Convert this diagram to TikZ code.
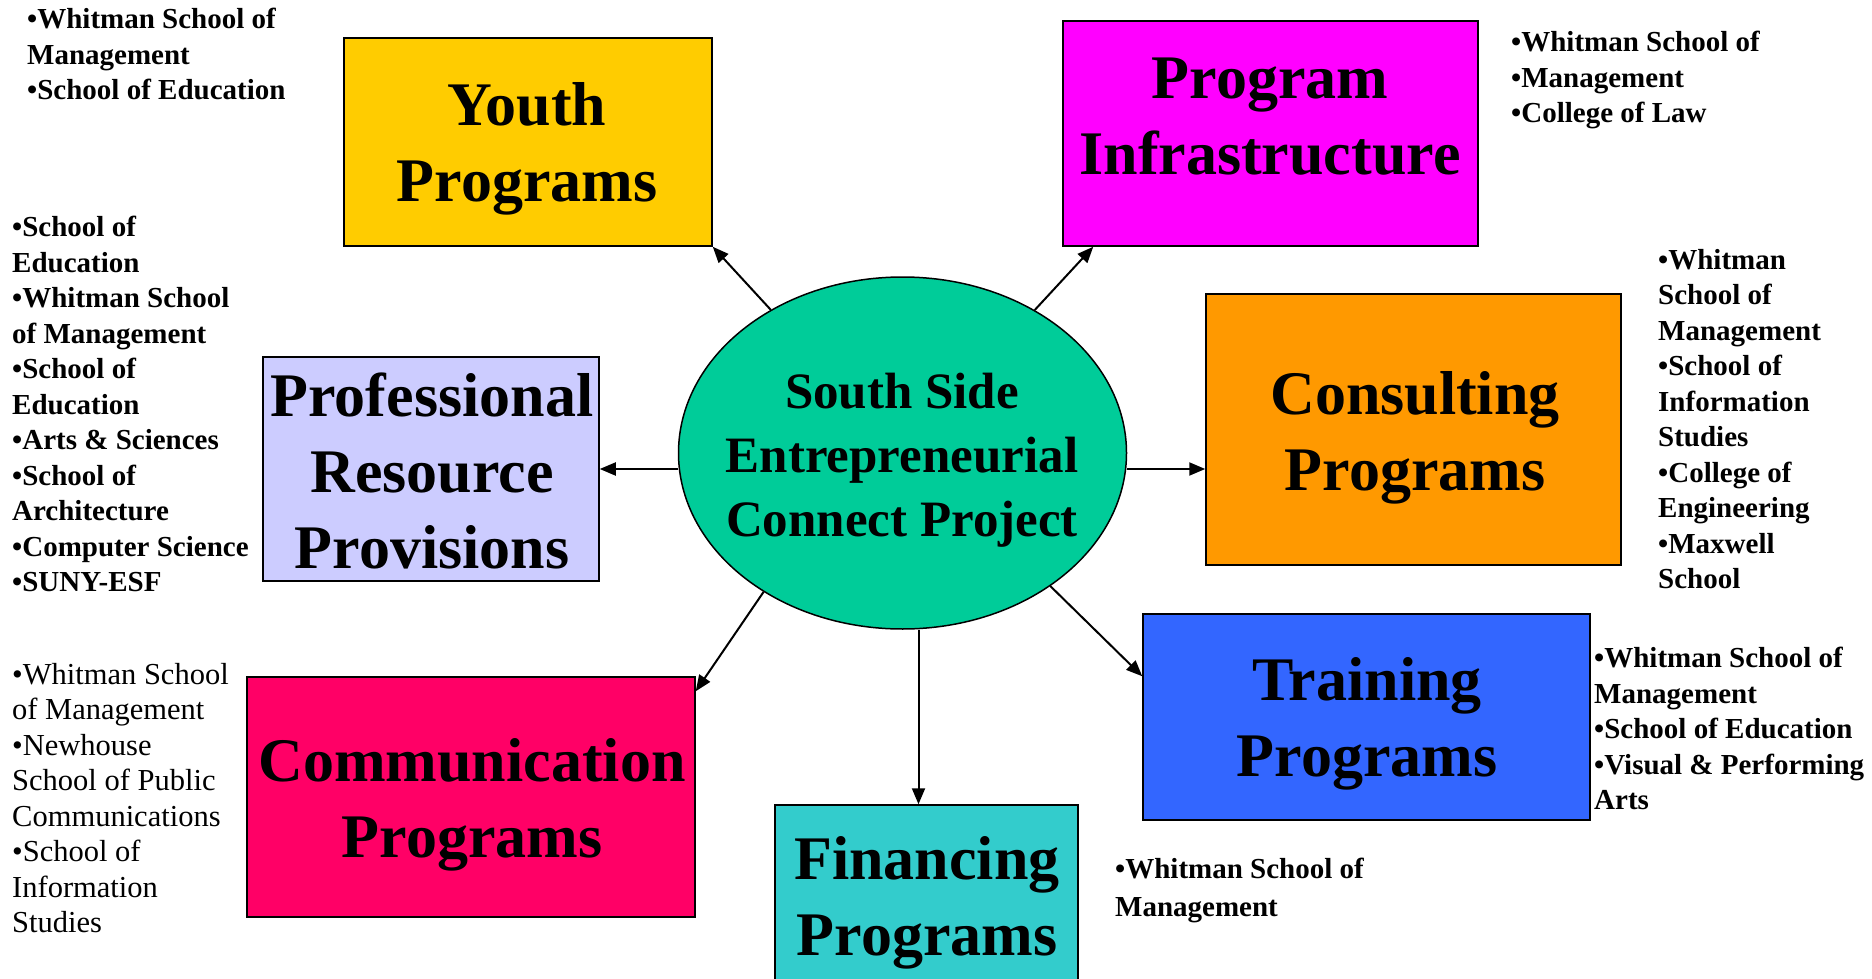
\documentclass[tikz,border=0pt]{standalone}
\usepackage{fontspec}
\setmainfont{Liberation Serif}
\usetikzlibrary{shapes.geometric,arrows.meta}
\definecolor{youthc}{HTML}{FFCC00}
\definecolor{infrac}{HTML}{FF00FF}
\definecolor{profc}{HTML}{CCCCFF}
\definecolor{consc}{HTML}{FF9900}
\definecolor{commc}{HTML}{FF0066}
\definecolor{finc}{HTML}{33CCCC}
\definecolor{trainc}{HTML}{3366FF}
\definecolor{ellc}{HTML}{00CC99}
\begin{document}
\begin{tikzpicture}[x=1pt,y=-1pt,
  box/.style={draw=black,line width=1.5pt,inner sep=0pt,rectangle},
  ttl/.style={font=\bfseries\fontsize{62}{76}\selectfont,align=center,inner sep=0pt},
  lst/.style={font=\bfseries\fontsize{29}{35.5}\selectfont,align=left,anchor=north west,inner sep=0pt},
  lstr/.style={font=\fontsize{30.5}{35.5}\selectfont,align=left,anchor=north west,inner sep=0pt},
  arr/.style={line width=2pt,-{Triangle[length=16pt,width=13pt]}}]
\useasboundingbox (0,0) rectangle (1872,979);

% boxes
\node[box,fill=youthc,minimum width=368pt,minimum height=208pt] (youth) at (528,142) {};
\node[box,fill=infrac,minimum width=415pt,minimum height=225pt] (infra) at (1270.5,133.5) {};
\node[box,fill=profc,minimum width=336pt,minimum height=224pt] (prof) at (431,469) {};
\node[box,fill=consc,minimum width=415pt,minimum height=271pt] (cons) at (1413.5,429.5) {};
\node[box,fill=commc,minimum width=448pt,minimum height=240pt] (comm) at (471,797) {};
\node[box,fill=finc,minimum width=303pt,minimum height=195pt] (fin) at (926.5,902.5) {};
\node[box,fill=trainc,minimum width=447pt,minimum height=206pt] (train) at (1366.5,717) {};
\node[ellipse,draw=black,line width=1.5pt,fill=ellc,minimum width=448pt,minimum height=352pt,inner sep=0pt] (ell) at (902.5,453) {};

% titles
\node[ttl] (youtht) at (527,149) {Youth\\Programs};
\node[ttl] (infrat) at (1270,117) {Program\\Infrastructure};
\node[ttl] (proft) at (432,471) {Professional\\Resource\\Provisions};
\node[ttl] (const) at (1415,438) {Consulting\\Programs};
\node[ttl] (commt) at (472,805) {Communication\\Programs};
\node[ttl] (traint) at (1367,724) {Training\\Programs};
\node[ttl] (fint) at (927,903) {Financing\\Programs};
\node[font=\bfseries\fontsize{51}{64}\selectfont,align=center,inner sep=0pt] (ellt) at (902,460) {South Side\\Entrepreneurial\\Connect Project};

% lists
\node[lst] (l1) at (27,8) {•Whitman School of\\Management\\•School of Education};
\node[lst] (l2) at (12,216) {•School of\\Education\\•Whitman School\\of Management\\•School of\\Education\\•Arts \& Sciences\\•School of\\Architecture\\•Computer Science\\•SUNY-ESF};
\node[lst] (l3) at (1511,31) {•Whitman School of\\•Management\\•College of Law};
\node[lst] (l4) at (1658,249) {•Whitman\\School of\\Management\\•School of\\Information\\Studies\\•College of\\Engineering\\•Maxwell\\School};
\node[lst] (l5) at (1594,647) {•Whitman School of\\Management\\•School of Education\\•Visual \& Performing\\Arts};
\node[lst,font=\bfseries\fontsize{29}{38}\selectfont] (l6) at (1115,858) {•Whitman School of\\Management};
\node[lstr] (l7) at (12,663) {•Whitman School\\of Management\\•Newhouse\\School of Public\\Communications\\•School of\\Information\\Studies};

% connectors
\draw[arr] (ell) -- (youth.south east);
\draw[arr] (ell) -- ([xshift=31pt]infra.south west);
\draw[arr] ([yshift=-16pt]ell.west) -- (prof.east);
\draw[arr] ([yshift=-16pt]ell.east) -- ([yshift=-16pt]ell.east -| cons.west);
\draw[arr] (ell.225) -- ([yshift=-15pt]comm.north east);
\draw[arr] ([xshift=16pt]ell.south) -- ([xshift=16pt]ell.south |- fin.north);
\draw[arr] (ell.318) -- ([yshift=-63pt]train.north west);
\end{tikzpicture}
\end{document}
